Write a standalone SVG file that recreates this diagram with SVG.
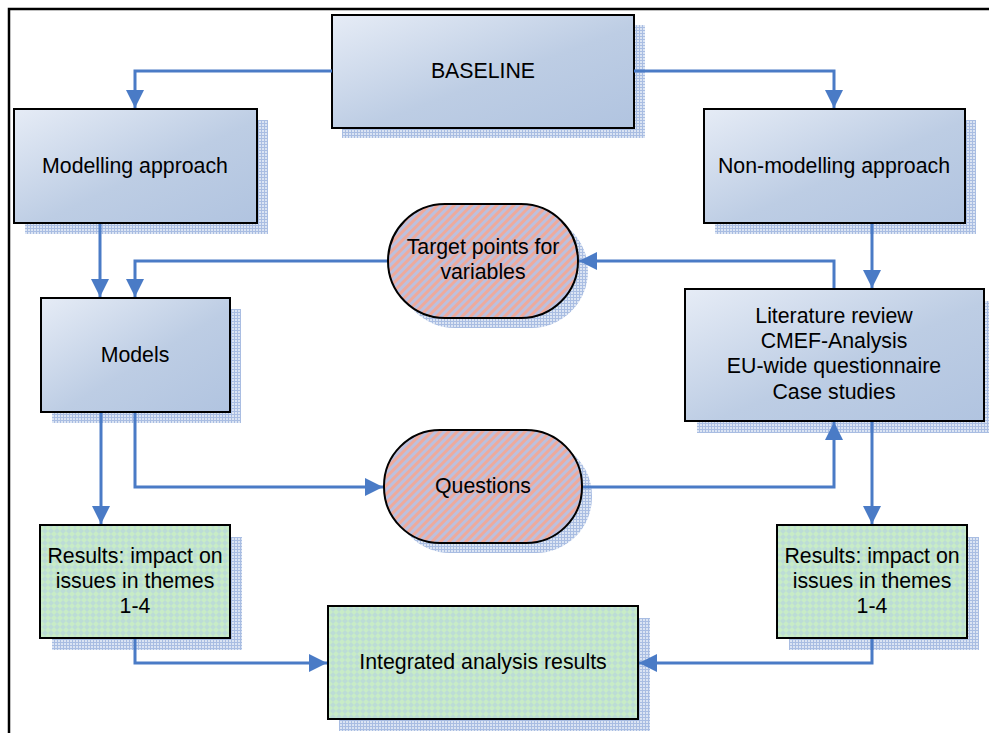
<svg xmlns="http://www.w3.org/2000/svg" width="989" height="733" viewBox="0 0 989 733">
<style>
.box{stroke:#000;stroke-width:2}
.blue{fill:url(#gBlue)}
.green{fill:url(#pGreen)}
.oval{fill:url(#pStripe)}
.sh{fill:url(#pShadow)}
.t{font-family:"Liberation Sans",Arial,sans-serif;font-size:21.3px;fill:#000;text-anchor:middle}
.c{fill:none;stroke:#4a7bc6;stroke-width:3}
</style>
<defs>
<linearGradient id="gBlue" x1="0" y1="0" x2="1" y2="1">
<stop offset="0" stop-color="#e6ecf6"/>
<stop offset="0.55" stop-color="#bdcde4"/>
<stop offset="1" stop-color="#b1c4e0"/>
</linearGradient>
<pattern id="pShadow" width="3" height="3" patternUnits="userSpaceOnUse">
<rect width="3" height="3" fill="#dbe4f3"/>
<rect width="3" height="1" fill="#a9bde2"/>
<rect width="1" height="3" fill="#a9bde2"/>
</pattern>
<pattern id="pStripe" width="6" height="6" patternUnits="userSpaceOnUse" patternTransform="rotate(45)">
<rect width="6" height="6" fill="#eeaa9c"/>
<rect width="3" height="6" fill="#bcc0de"/>
</pattern>
<pattern id="pGreen" width="6" height="6" patternUnits="userSpaceOnUse">
<rect width="6" height="6" fill="#c8ecc6"/>
<path d="M3,0 L6,3 L3,6 L0,3 Z" fill="#bcdcd6"/>
</pattern>
<marker id="arr" viewBox="0 0 18 18" refX="18" refY="9" markerWidth="18" markerHeight="18" orient="auto" markerUnits="userSpaceOnUse">
<path d="M0,0 L18,9 L0,18 Z" fill="#4a7bc6"/>
</marker>
</defs>
<rect width="989" height="733" fill="#fff"/>
<path d="M9,733 V9 H989" fill="none" stroke="#000" stroke-width="2.5"/>

<g id="baseline">
<rect class="sh" x="342" y="25" width="303" height="113"/>
<rect class="box blue" x="332" y="15" width="302" height="113"/>
<text class="t" x="483" y="78">BASELINE</text>
</g>
<g id="modelling">
<rect class="sh" x="25" y="120" width="243" height="114"/>
<rect class="box blue" x="14" y="109" width="243" height="114"/>
<text class="t" x="135" y="173">Modelling approach</text>
</g>
<g id="nonmodelling">
<rect class="sh" x="715" y="120" width="261" height="114"/>
<rect class="box blue" x="704" y="109" width="261" height="114"/>
<text class="t" x="834" y="173">Non-modelling approach</text>
</g>
<g id="target">
<rect class="sh" x="398" y="214" width="190" height="114" rx="57"/>
<rect class="box oval" x="388" y="204" width="190" height="114" rx="57"/>
<text class="t" x="483" y="254">Target points for</text>
<text class="t" x="483" y="279">variables</text>
</g>
<g id="literature">
<rect class="sh" x="697" y="301" width="292" height="132"/>
<rect class="box blue" x="685" y="289" width="299" height="132"/>
<text class="t" x="834" y="323">Literature review</text>
<text class="t" x="834" y="348">CMEF-Analysis</text>
<text class="t" x="834" y="373">EU-wide questionnaire</text>
<text class="t" x="834" y="399">Case studies</text>
</g>
<g id="models">
<rect class="sh" x="52" y="309" width="189" height="114"/>
<rect class="box blue" x="41" y="298" width="189" height="114"/>
<text class="t" x="135" y="362">Models</text>
</g>
<g id="questions">
<rect class="sh" x="394" y="440" width="198" height="113" rx="56"/>
<rect class="box oval" x="384" y="430" width="198" height="113" rx="56"/>
<text class="t" x="483" y="493">Questions</text>
</g>
<g id="resultsLeft">
<rect class="sh" x="52" y="537" width="190" height="113"/>
<rect class="box green" x="40" y="525" width="190" height="113"/>
<text class="t" x="135" y="563">Results: impact on</text>
<text class="t" x="135" y="588">issues in themes</text>
<text class="t" x="135" y="613">1-4</text>
</g>
<g id="resultsRight">
<rect class="sh" x="789" y="537" width="190" height="113"/>
<rect class="box green" x="777" y="525" width="190" height="113"/>
<text class="t" x="872" y="563">Results: impact on</text>
<text class="t" x="872" y="588">issues in themes</text>
<text class="t" x="872" y="613">1-4</text>
</g>
<g id="integrated">
<rect class="sh" x="339" y="618" width="311" height="113"/>
<rect class="box green" x="328" y="606" width="310" height="113"/>
<text class="t" x="483" y="669">Integrated analysis results</text>
</g>

<g id="connectors">
<path class="c" d="M332,71 H135 V108" marker-end="url(#arr)"/>
<path class="c" d="M634,71 H834 V108" marker-end="url(#arr)"/>
<path class="c" d="M100,224 V297" marker-end="url(#arr)"/>
<path class="c" d="M872,224 V288" marker-end="url(#arr)"/>
<path class="c" d="M834,288 V261 H579" marker-end="url(#arr)"/>
<path class="c" d="M387,261 H135 V297" marker-end="url(#arr)"/>
<path class="c" d="M101,413 V524" marker-end="url(#arr)"/>
<path class="c" d="M135,413 V487 H383" marker-end="url(#arr)"/>
<path class="c" d="M583,487 H834 V422" marker-end="url(#arr)"/>
<path class="c" d="M872,422 V524" marker-end="url(#arr)"/>
<path class="c" d="M135,639 V663 H327" marker-end="url(#arr)"/>
<path class="c" d="M872,639 V663 H639" marker-end="url(#arr)"/>
</g>
</svg>
